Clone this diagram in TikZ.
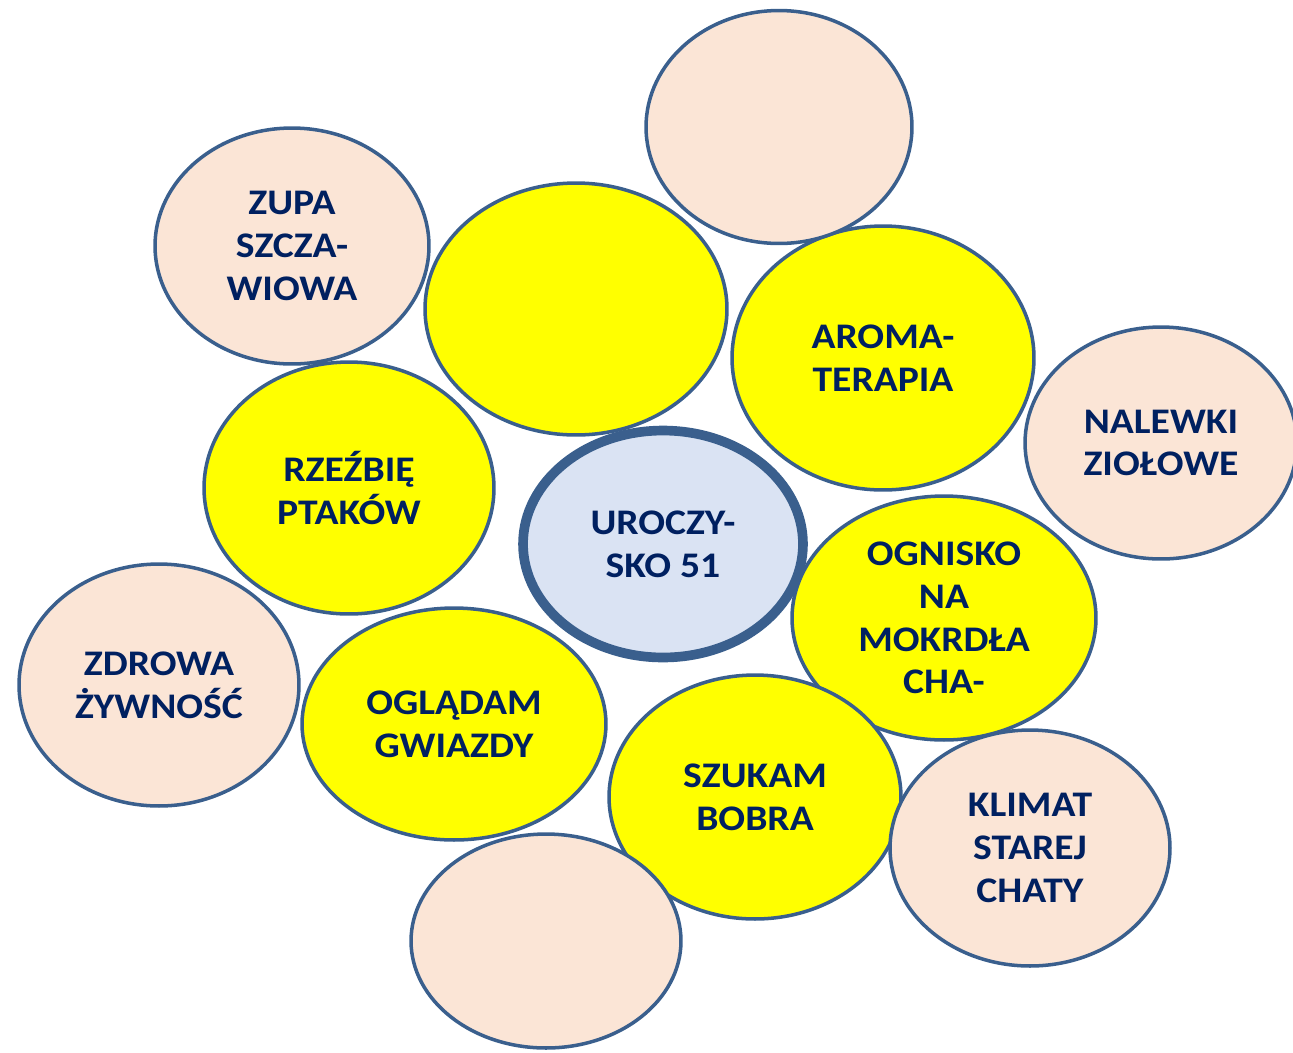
\documentclass[tikz,border=0pt]{standalone}
\usepackage{fontspec}
\setmainfont{Carlito}[FakeStretch=1.1]
\usetikzlibrary{shapes.geometric}
\definecolor{edgeblue}{HTML}{3A5F8D}
\definecolor{peach}{HTML}{FBE5D6}
\definecolor{lightblue}{HTML}{DAE3F3}
\definecolor{navy}{HTML}{002060}
\definecolor{yel}{HTML}{FFFF00}
\tikzset{
  bubble/.style={ellipse, draw=edgeblue, line width=2pt, inner sep=0pt, align=center,
    text=navy, font=\bfseries\fontsize{20.5}{24.3}\selectfont},
  peachbubble/.style={bubble, fill=peach},
  yellowbubble/.style={bubble, fill=yel},
  centerbubble/.style={bubble, fill=lightblue, line width=5.5pt},
}
\begin{document}
\begin{tikzpicture}[x=0.02cm,y=-0.02cm]
\useasboundingbox (0,0) rectangle (1293,1052);
\clip (0,0) rectangle (1293,1052);
\node[peachbubble, minimum width=5.48cm, minimum height=4.72cm] (zupa) at (292,246) {ZUPA\\SZCZA-\\WIOWA};
\node[yellowbubble, minimum width=6.04cm, minimum height=5.04cm] (yempty) at (576,309) {};
\node[yellowbubble, minimum width=6.04cm, minimum height=5.28cm] (aroma) at (883,358) {AROMA-\\TERAPIA};
\node[yellowbubble, minimum width=5.80cm, minimum height=5.04cm] (rzezbie) at (349,488) {RZEŹBIĘ\\PTAKÓW};
\node[yellowbubble, minimum width=6.08cm, minimum height=4.88cm] (ognisko) at (944,618) {OGNISKO\\NA\\MOKRDŁA\\CHA-};
\node[yellowbubble, minimum width=6.08cm, minimum height=4.64cm] (ogladam) at (454,724) {OGLĄDAM\\GWIAZDY};
\node[yellowbubble, minimum width=5.84cm, minimum height=4.88cm] (szukam) at (755,797) {SZUKAM\\BOBRA};
\node[peachbubble, minimum width=5.32cm, minimum height=4.66cm] (ptop) at (779,127) {};
\node[peachbubble, minimum width=5.44cm, minimum height=4.64cm] (nalewki) at (1161,443) {NALEWKI\\ZIOŁOWE};
\node[peachbubble, minimum width=5.60cm, minimum height=4.84cm] (zdrowa) at (159,685) {ZDROWA\\ŻYWNOŚĆ};
\node[peachbubble, minimum width=5.60cm, minimum height=4.72cm] (klimat) at (1030,848) {KLIMAT\\STAREJ\\CHATY};
\node[peachbubble, minimum width=5.40cm, minimum height=4.28cm] (pbottom) at (546,941) {};
\node[centerbubble, minimum width=5.60cm, minimum height=4.54cm] (center) at (663,544) {UROCZY-\\SKO 51};
\end{tikzpicture}
\end{document}
